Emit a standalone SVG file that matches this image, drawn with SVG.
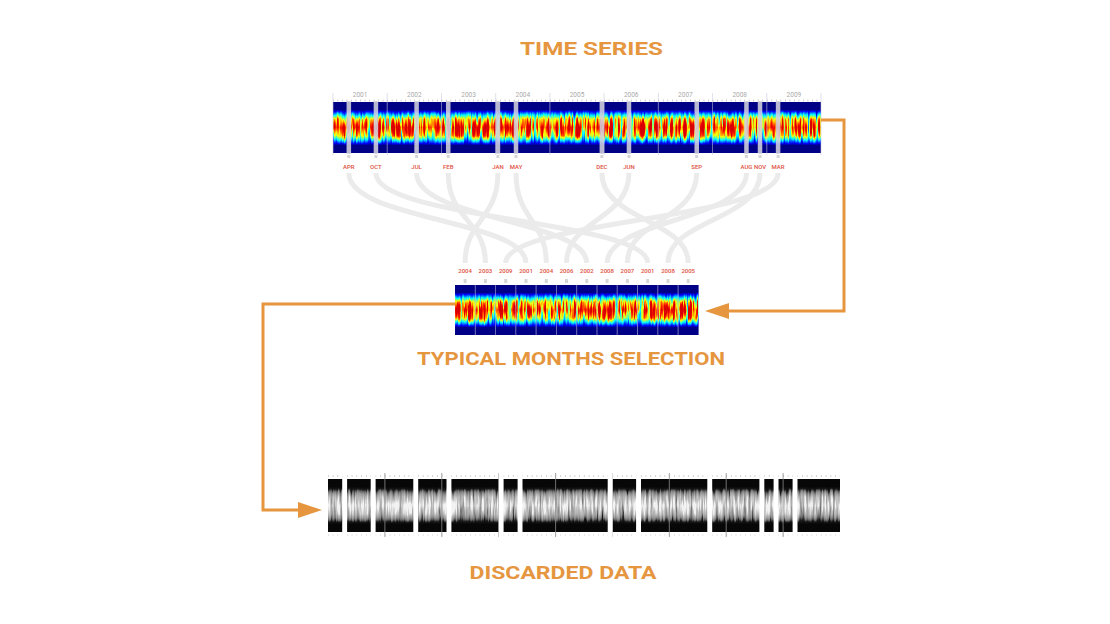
<svg xmlns="http://www.w3.org/2000/svg" width="1110" height="624" viewBox="0 0 1110 624">
<style>
.title{font-family:Roboto,"Liberation Sans",sans-serif;font-weight:700;font-size:18.5px;fill:#e5963f;text-anchor:middle}
.yr{font-family:Roboto,"Liberation Sans",sans-serif;font-size:6.5px;fill:#aaaaaa;text-anchor:middle}
.lbl{font-family:Roboto,"Liberation Sans",sans-serif;font-weight:500;font-size:6px;fill:#e05040;text-anchor:middle}
.curve{fill:none;stroke:#ebebeb;stroke-width:5}
.arrow{fill:none;stroke:#e5963f;stroke-width:3}
.bar{fill:#d2d2de;opacity:0.88}
.tick{fill:#d6d6d6}
.ysep{stroke:#c8c8dc;stroke-width:0.8;opacity:0.75}
.csep{stroke:#b8b8d8;stroke-width:0.8;opacity:0.8}
.gap{fill:#ffffff}
.bsep{stroke:#8a8a8a;stroke-width:0.8}
</style>
<defs>
<linearGradient id="prof" x1="0" y1="0" x2="0" y2="1">
<stop offset="0" stop-color="#000"/>
<stop offset="0.15" stop-color="#000"/>
<stop offset="0.24" stop-color="#4d4d4d"/>
<stop offset="0.34" stop-color="#a6a6a6"/>
<stop offset="0.5" stop-color="#e6e6e6"/>
<stop offset="0.66" stop-color="#a6a6a6"/>
<stop offset="0.76" stop-color="#4d4d4d"/>
<stop offset="0.85" stop-color="#000"/>
<stop offset="1" stop-color="#000"/>
</linearGradient>
<filter id="jet" x="0" y="0" width="1" height="1" color-interpolation-filters="sRGB">
<feTurbulence type="fractalNoise" baseFrequency="0.38 0.025" numOctaves="3" seed="4" result="n"/>
<feColorMatrix in="n" type="matrix" values="1 0 0 0 0 1 0 0 0 0 1 0 0 0 0 0 0 0 0 1" result="ng"/>
<feComposite in="SourceGraphic" in2="ng" operator="arithmetic" k1="2" k2="0" k3="0" k4="0" result="v"/>
<feComponentTransfer in="v">
<feFuncR type="table" tableValues="0 0 0 0 0.5 1 1 1 0.85"/>
<feFuncG type="table" tableValues="0 0 0.5 1 1 1 0.5 0.1 0"/>
<feFuncB type="table" tableValues="0.53 1 1 1 0.5 0 0 0 0"/>
</feComponentTransfer>
</filter>
<filter id="jet2" x="0" y="0" width="1" height="1" color-interpolation-filters="sRGB">
<feTurbulence type="fractalNoise" baseFrequency="0.38 0.03" numOctaves="3" seed="11" result="n"/>
<feColorMatrix in="n" type="matrix" values="1 0 0 0 0 1 0 0 0 0 1 0 0 0 0 0 0 0 0 1" result="ng"/>
<feComposite in="SourceGraphic" in2="ng" operator="arithmetic" k1="2" k2="0" k3="0" k4="0" result="v"/>
<feComponentTransfer in="v">
<feFuncR type="table" tableValues="0 0 0 0 0.5 1 1 1 0.85"/>
<feFuncG type="table" tableValues="0 0 0.5 1 1 1 0.5 0.1 0"/>
<feFuncB type="table" tableValues="0.53 1 1 1 0.5 0 0 0 0"/>
</feComponentTransfer>
</filter>
<filter id="gray" x="0" y="0" width="1" height="1" color-interpolation-filters="sRGB">
<feTurbulence type="fractalNoise" baseFrequency="0.45 0.03" numOctaves="3" seed="7" result="n"/>
<feColorMatrix in="n" type="matrix" values="1 0 0 0 0 1 0 0 0 0 1 0 0 0 0 0 0 0 0 1" result="ng"/>
<feComposite in="SourceGraphic" in2="ng" operator="arithmetic" k1="2" k2="0" k3="0" k4="0" result="v"/>
<feComponentTransfer in="v">
<feFuncR type="table" tableValues="0.03 0.1 0.42 0.58 0.66 0.74 0.84 0.95"/>
<feFuncG type="table" tableValues="0.03 0.1 0.42 0.58 0.66 0.74 0.84 0.95"/>
<feFuncB type="table" tableValues="0.03 0.1 0.42 0.58 0.66 0.74 0.84 0.95"/>
</feComponentTransfer>
</filter>
<marker id="head" markerUnits="userSpaceOnUse" markerWidth="24" markerHeight="16" viewBox="0 0 24 16" refX="17" refY="8" orient="auto">
<path d="M0,0 L24,8 L0,16 Z" fill="#e5963f"/>
</marker>
</defs>
<rect width="1110" height="624" fill="#ffffff"/>

<g id="title-time-series"><text class="title" x="591.5" y="55" textLength="143" lengthAdjust="spacingAndGlyphs">TIME SERIES</text></g>

<g id="time-series">
<g class="yr">
<text x="360.1" y="97">2001</text><text x="414.3" y="97">2002</text><text x="468.6" y="97">2003</text>
<text x="522.8" y="97">2004</text><text x="577" y="97">2005</text><text x="631.2" y="97">2006</text>
<text x="685.4" y="97">2007</text><text x="739.7" y="97">2008</text><text x="793.9" y="97">2009</text>
</g>
<rect x="333" y="102" width="488" height="51" fill="url(#prof)" filter="url(#jet)"/>
<line x1="333" y1="100.5" x2="821" y2="100.5" stroke="#bbbbbb" stroke-width="2" stroke-dasharray="0.7 3.82"/>
<g>
<line class="ysep" x1="333" y1="93" x2="333" y2="155"/><line class="ysep" x1="387.2" y1="93" x2="387.2" y2="155"/>
<line class="ysep" x1="441.4" y1="93" x2="441.4" y2="155"/><line class="ysep" x1="495.7" y1="93" x2="495.7" y2="155"/>
<line class="ysep" x1="549.9" y1="93" x2="549.9" y2="155"/><line class="ysep" x1="604.1" y1="93" x2="604.1" y2="155"/>
<line class="ysep" x1="658.3" y1="93" x2="658.3" y2="155"/><line class="ysep" x1="712.6" y1="93" x2="712.6" y2="155"/>
<line class="ysep" x1="766.8" y1="93" x2="766.8" y2="155"/><line class="ysep" x1="821" y1="93" x2="821" y2="155"/>
</g>
<g>
<rect class="bar" x="346.56" y="101" width="4.52" height="53"/>
<rect class="bar" x="373.67" y="101" width="4.52" height="53"/>
<rect class="bar" x="414.33" y="101" width="4.52" height="53"/>
<rect class="bar" x="445.96" y="101" width="4.52" height="53"/>
<rect class="bar" x="495.67" y="101" width="4.52" height="53"/>
<rect class="bar" x="513.74" y="101" width="4.52" height="53"/>
<rect class="bar" x="599.59" y="101" width="4.52" height="53"/>
<rect class="bar" x="626.7" y="101" width="4.52" height="53"/>
<rect class="bar" x="694.48" y="101" width="4.52" height="53"/>
<rect class="bar" x="744.19" y="101" width="4.52" height="53"/>
<rect class="bar" x="757.75" y="101" width="4.52" height="53"/>
<rect class="bar" x="775.82" y="101" width="4.52" height="53"/>
</g>
<g>
<rect class="tick" x="347.3" y="155" width="3" height="3"/><rect class="tick" x="374.4" y="155" width="3" height="3"/>
<rect class="tick" x="415.1" y="155" width="3" height="3"/><rect class="tick" x="446.7" y="155" width="3" height="3"/>
<rect class="tick" x="496.4" y="155" width="3" height="3"/><rect class="tick" x="514.5" y="155" width="3" height="3"/>
<rect class="tick" x="600.3" y="155" width="3" height="3"/><rect class="tick" x="627.5" y="155" width="3" height="3"/>
<rect class="tick" x="695.2" y="155" width="3" height="3"/><rect class="tick" x="744.9" y="155" width="3" height="3"/>
<rect class="tick" x="758.5" y="155" width="3" height="3"/><rect class="tick" x="776.6" y="155" width="3" height="3"/>
</g>
<g class="lbl">
<text x="348.8" y="168.5">APR</text><text x="375.9" y="168.5">OCT</text><text x="416.6" y="168.5">JUL</text>
<text x="448.2" y="168.5">FEB</text><text x="497.9" y="168.5">JAN</text><text x="516" y="168.5">MAY</text>
<text x="601.9" y="168.5">DEC</text><text x="629" y="168.5">JUN</text><text x="696.7" y="168.5">SEP</text>
<text x="746.5" y="168.5">AUG</text><text x="760" y="168.5">NOV</text><text x="778.1" y="168.5">MAR</text>
</g>
</g>

<g id="connectors">
<path class="curve" d="M348.8,173 C348.8,220 526,220 526,263"/>
<path class="curve" d="M375.9,173 C375.9,220 647.7,220 647.7,263"/>
<path class="curve" d="M416.6,173 C416.6,220 586.8,220 586.8,263"/>
<path class="curve" d="M448.2,173 C448.2,220 485.4,220 485.4,263"/>
<path class="curve" d="M497.9,173 C497.9,220 465.1,220 465.1,263"/>
<path class="curve" d="M516,173 C516,220 546.3,220 546.3,263"/>
<path class="curve" d="M601.9,173 C601.9,220 688.2,220 688.2,263"/>
<path class="curve" d="M629,173 C629,220 566.5,220 566.5,263"/>
<path class="curve" d="M696.7,173 C696.7,220 627.4,220 627.4,263"/>
<path class="curve" d="M746.5,173 C746.5,220 607.1,220 607.1,263"/>
<path class="curve" d="M760,173 C760,220 668,220 668,263"/>
<path class="curve" d="M778.1,173 C778.1,220 505.7,220 505.7,263"/>
<path class="arrow" d="M821,120 H844 V311 H712" marker-end="url(#head)"/>
<path class="arrow" d="M455,304 H263 V510 H315" marker-end="url(#head)"/>
</g>

<g id="typical-months">
<g class="lbl">
<text x="465.1" y="273">2004</text><text x="485.4" y="273">2003</text><text x="505.7" y="273">2009</text>
<text x="526" y="273">2001</text><text x="546.3" y="273">2004</text><text x="566.5" y="273">2006</text>
<text x="586.8" y="273">2002</text><text x="607.1" y="273">2008</text><text x="627.4" y="273">2007</text>
<text x="647.7" y="273">2001</text><text x="668" y="273">2008</text><text x="688.2" y="273">2005</text>
</g>
<g>
<rect class="tick" x="463.6" y="279" width="3" height="4"/><rect class="tick" x="483.9" y="279" width="3" height="4"/>
<rect class="tick" x="504.2" y="279" width="3" height="4"/><rect class="tick" x="524.5" y="279" width="3" height="4"/>
<rect class="tick" x="544.8" y="279" width="3" height="4"/><rect class="tick" x="565" y="279" width="3" height="4"/>
<rect class="tick" x="585.3" y="279" width="3" height="4"/><rect class="tick" x="605.6" y="279" width="3" height="4"/>
<rect class="tick" x="625.9" y="279" width="3" height="4"/><rect class="tick" x="646.2" y="279" width="3" height="4"/>
<rect class="tick" x="666.5" y="279" width="3" height="4"/><rect class="tick" x="686.7" y="279" width="3" height="4"/>
</g>
<rect x="455" y="285" width="243.3" height="50" fill="url(#prof)" filter="url(#jet2)"/>
<g>
<line class="csep" x1="475.3" y1="285" x2="475.3" y2="335"/><line class="csep" x1="495.6" y1="285" x2="495.6" y2="335"/>
<line class="csep" x1="515.8" y1="285" x2="515.8" y2="335"/><line class="csep" x1="536.1" y1="285" x2="536.1" y2="335"/>
<line class="csep" x1="556.4" y1="285" x2="556.4" y2="335"/><line class="csep" x1="576.7" y1="285" x2="576.7" y2="335"/>
<line class="csep" x1="597" y1="285" x2="597" y2="335"/><line class="csep" x1="617.2" y1="285" x2="617.2" y2="335"/>
<line class="csep" x1="637.5" y1="285" x2="637.5" y2="335"/><line class="csep" x1="657.8" y1="285" x2="657.8" y2="335"/>
<line class="csep" x1="678.1" y1="285" x2="678.1" y2="335"/>
</g>
<text class="title" x="571" y="364.5" textLength="308" lengthAdjust="spacingAndGlyphs">TYPICAL MONTHS SELECTION</text>
</g>

<g id="discarded-data">
<line x1="328" y1="476" x2="840" y2="476" stroke="#c4c4c4" stroke-width="2" stroke-dasharray="0.7 4.04"/>
<line x1="328" y1="535" x2="840" y2="535" stroke="#dddddd" stroke-width="2" stroke-dasharray="0.7 4.04"/>
<rect x="328" y="479" width="512" height="53" fill="url(#prof)" filter="url(#gray)"/>
<g>
<line class="bsep" x1="384.9" y1="473" x2="384.9" y2="537"/><line class="bsep" x1="441.8" y1="473" x2="441.8" y2="537"/>
<line class="bsep" x1="498.7" y1="473" x2="498.7" y2="537"/><line class="bsep" x1="555.6" y1="473" x2="555.6" y2="537"/>
<line class="bsep" x1="612.4" y1="473" x2="612.4" y2="537"/><line class="bsep" x1="669.3" y1="473" x2="669.3" y2="537"/>
<line class="bsep" x1="726.2" y1="473" x2="726.2" y2="537"/><line class="bsep" x1="783.1" y1="473" x2="783.1" y2="537"/>
</g>
<g>
<rect class="gap" x="342.2" y="470" width="4.9" height="72"/>
<rect class="gap" x="370.7" y="470" width="4.9" height="72"/>
<rect class="gap" x="413.3" y="470" width="4.9" height="72"/>
<rect class="gap" x="446.5" y="470" width="4.9" height="72"/>
<rect class="gap" x="498.7" y="470" width="4.9" height="72"/>
<rect class="gap" x="517.6" y="470" width="4.9" height="72"/>
<rect class="gap" x="607.7" y="470" width="4.9" height="72"/>
<rect class="gap" x="636.1" y="470" width="4.9" height="72"/>
<rect class="gap" x="707.3" y="470" width="4.9" height="72"/>
<rect class="gap" x="759.4" y="470" width="4.9" height="72"/>
<rect class="gap" x="773.6" y="470" width="4.9" height="72"/>
<rect class="gap" x="792.6" y="470" width="4.9" height="72"/>
</g>
<text class="title" x="563" y="579" textLength="187" lengthAdjust="spacingAndGlyphs">DISCARDED DATA</text>
</g>
</svg>
